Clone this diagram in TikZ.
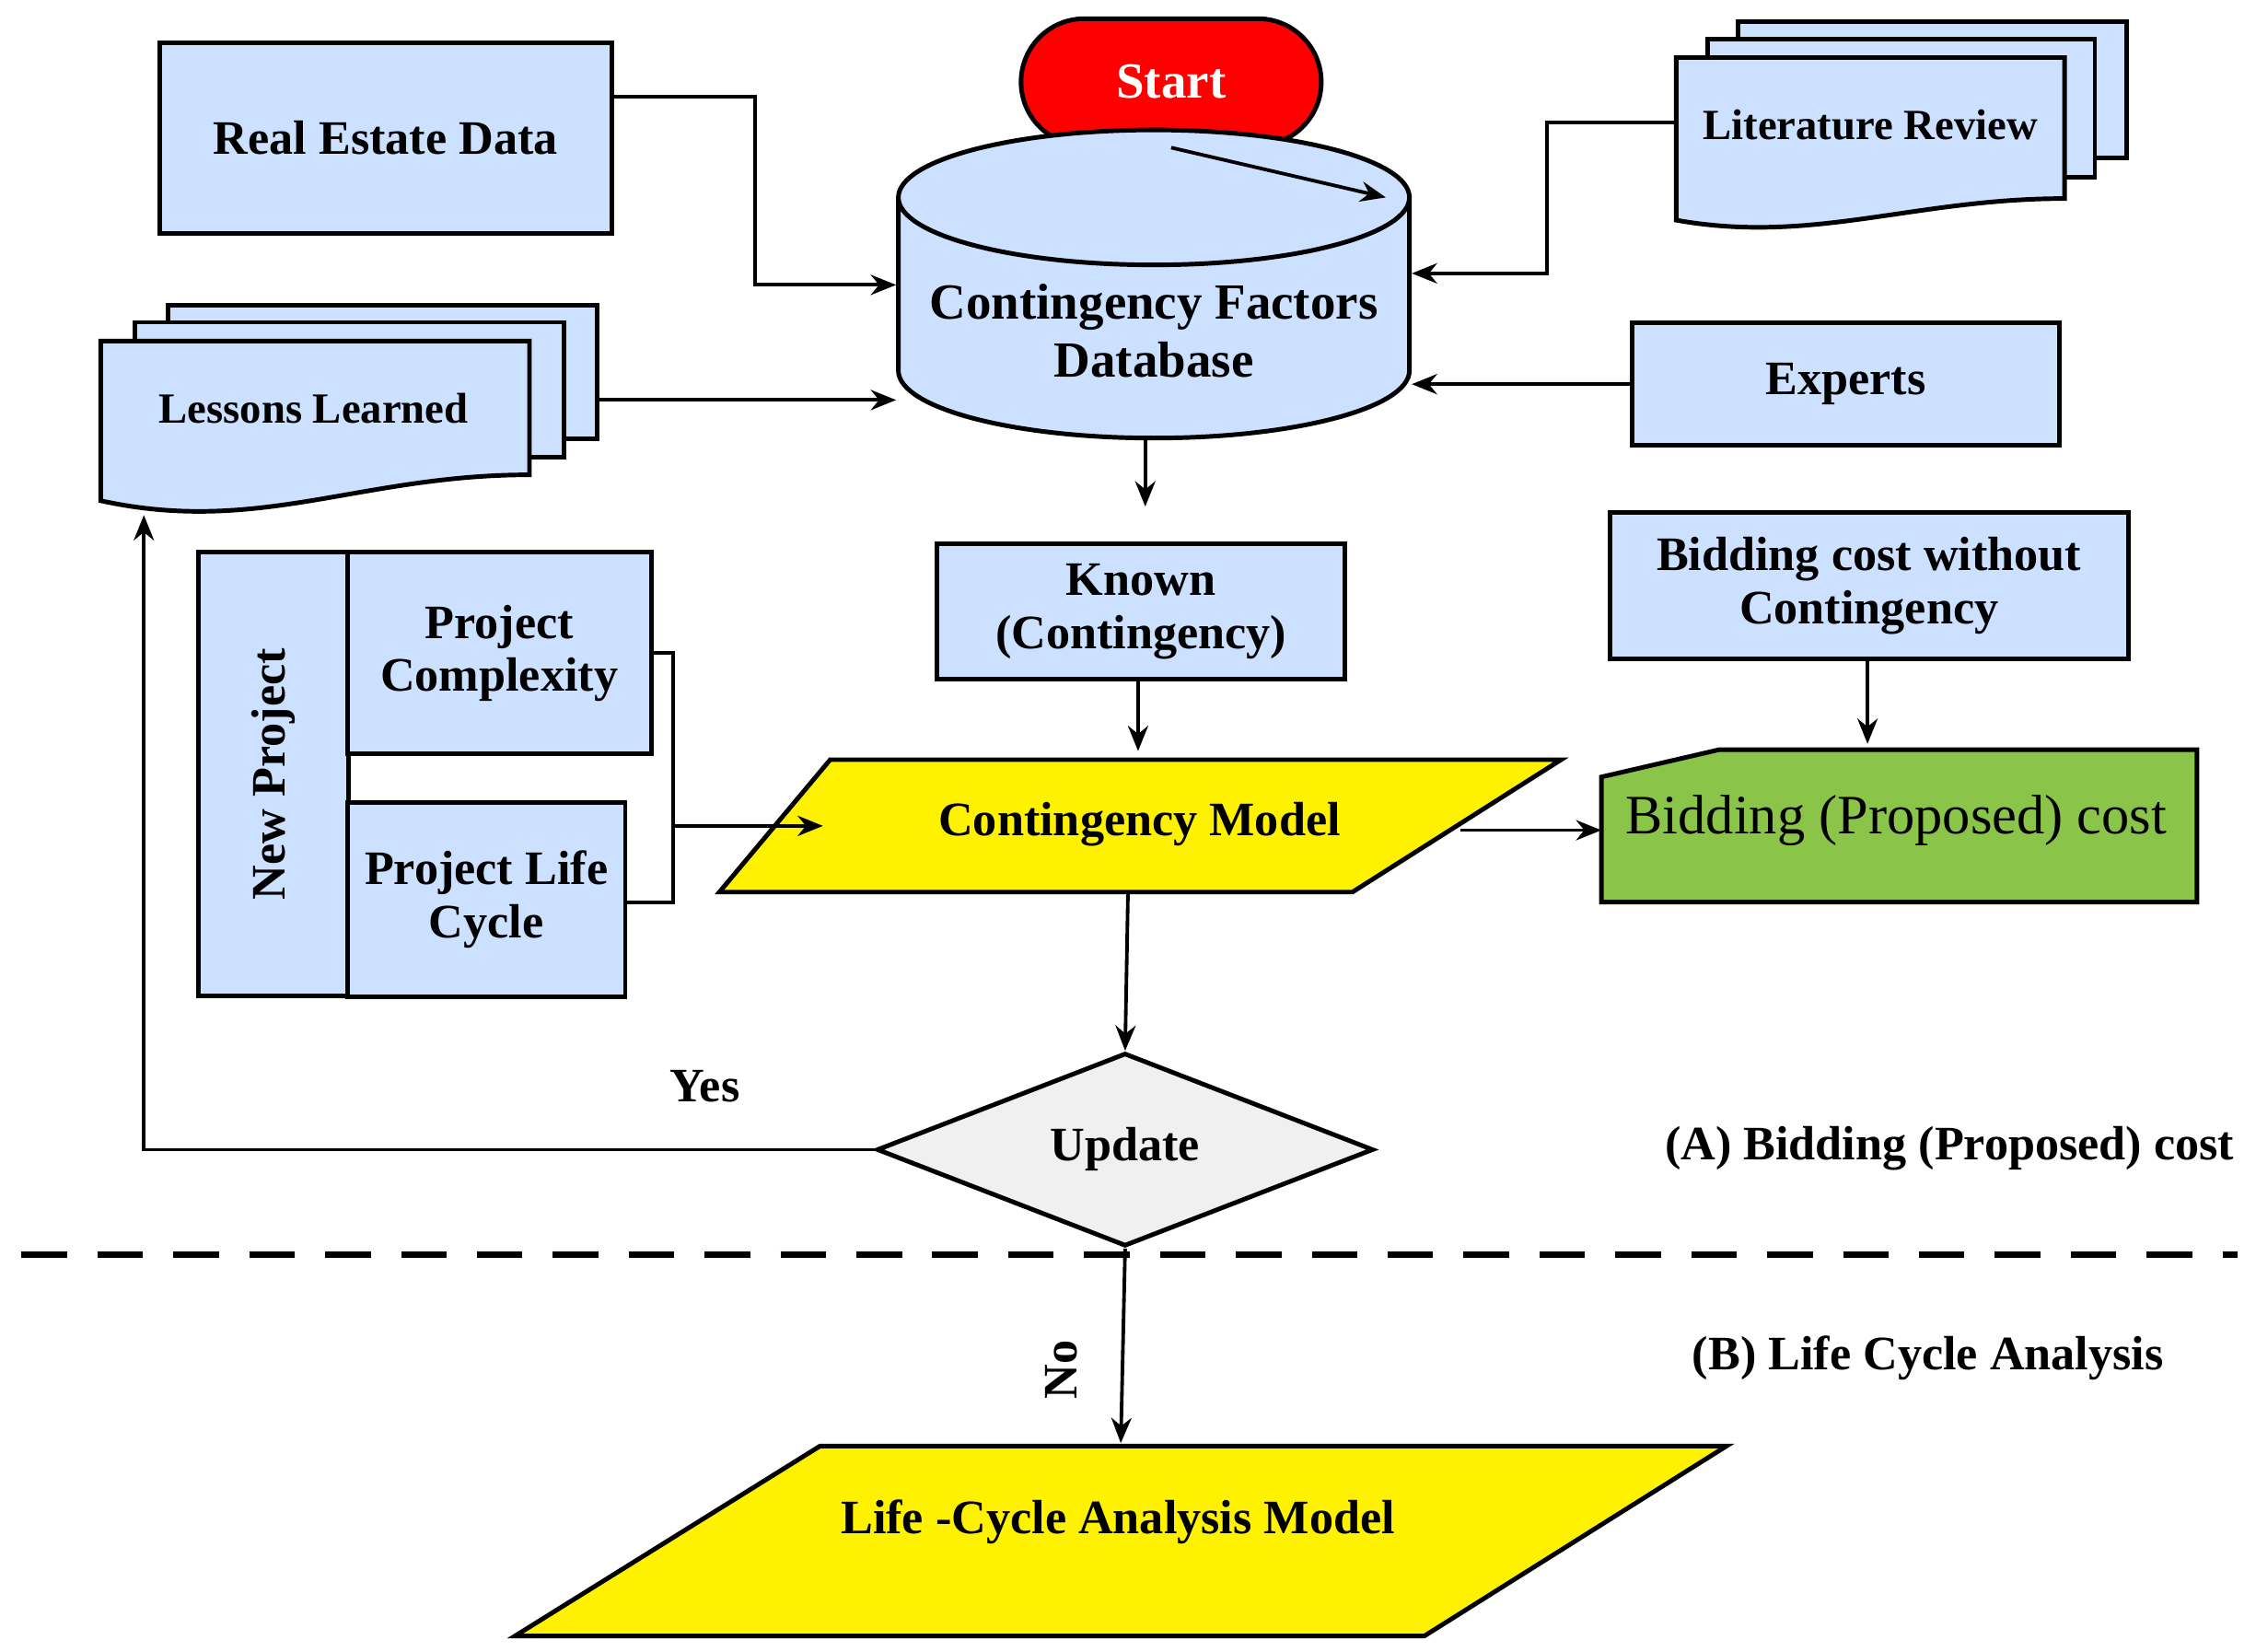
\documentclass[tikz,border=0pt]{standalone}
\usepackage{fontspec}
\setmainfont{Liberation Serif}
\usetikzlibrary{shapes.geometric}
\usetikzlibrary{shapes.misc}
\usetikzlibrary{arrows.meta}
\definecolor{boxblue}{RGB}{204,224,255}
\definecolor{boxgreen}{RGB}{138,196,72}
\begin{document}
\begin{tikzpicture}[x=0.01cm,y=-0.01cm]
	\tikzset{
		mynode/.style={rectangle, draw=black, line width=0.9pt, fill=boxblue, align=center, inner sep=0pt, font=\fontsize{9.5}{10.5}\selectfont\bfseries},
		startnode/.style={rounded rectangle, draw=black, line width=0.9pt, fill=red, text=white, minimum width=2.32cm, minimum height=0.88cm, font=\fontsize{10}{11}\selectfont\bfseries},
		dbnode/.style={cylinder, shape border rotate=90, draw=black, line width=0.9pt, fill=boxblue, minimum width=3.55cm, minimum height=1.85cm, aspect=0.28, align=center, font=\fontsize{10}{11.5}\selectfont\bfseries},
		sheet/.style={draw=black, line width=0.9pt, fill=boxblue},
		label/.style={font=\fontsize{9.5}{10.5}\selectfont\bfseries},
		arr/.style={-{Stealth[length=5pt,width=4pt]}, line width=0.7pt},
		line/.style={line width=0.7pt},
	}
	\useasboundingbox (0,0) rectangle (1568,1148);

	\node[startnode] (start) at (814,57) {Start};
	\node[dbnode] (db) at (802,230) {Contingency Factors\\Database};

	\node[mynode, minimum width=3.14cm, minimum height=1.32cm] (real) at (268,96) {Real Estate Data};
	\node[mynode, minimum width=2.97cm, minimum height=0.85cm] (experts) at (1283,267) {Experts};
	\node[mynode, minimum width=2.83cm, minimum height=0.94cm] (known) at (793,425) {Known\\(Contingency)};
	\node[mynode, minimum width=3.60cm, minimum height=1.02cm] (bidwo) at (1299,407) {Bidding cost without\\Contingency};

	% literature review sheets
	\draw[sheet] (1208,15) rectangle (1478,110);
	\draw[sheet] (1187,27) rectangle (1456,123);
	\draw[sheet] (1165,40) -- (1435,40) -- (1435,138) .. controls (1330,138) and (1260,170) .. (1165,153) -- cycle;
	\node[label, font=\fontsize{8.5}{10}\selectfont\bfseries] (lit) at (1300,87) {Literature Review};
	\coordinate (litw) at (1165,85);

	% lessons learned sheets
	\draw[sheet] (117,212) rectangle (415,305);
	\draw[sheet] (94,224) rectangle (392,318);
	\draw[sheet] (70,237) -- (368,237) -- (368,330) .. controls (250,330) and (180,372) .. (70,348) -- cycle;
	\node[label, font=\fontsize{8.5}{10}\selectfont\bfseries] (lessons) at (218,284) {Lessons Learned};
	\coordinate (lesse) at (415,278);
	\coordinate (lesss) at (100,358);

	% new project
	\node[mynode, minimum width=1.04cm, minimum height=3.08cm] (newp) at (190,538) {};
	\node[label, rotate=90] at (newp) {New Project};
	\node[mynode, minimum width=2.11cm, minimum height=1.40cm] (compl) at (347,454) {Project\\Complexity};
	\node[mynode, minimum width=1.93cm, minimum height=1.35cm] (life) at (338,625) {Project Life\\Cycle};

	% contingency model
	\draw[line width=0.9pt, fill=yellow] (577,528) -- (1085,528) -- (940,620) -- (500,620) -- cycle;
	\node[label] (model) at (792,573) {Contingency Model};
	\coordinate (modelw) at (572,574);
	\coordinate (modele) at (1015,577);
	\coordinate (modeln) at (791,522);
	\coordinate (models) at (784,620);

	% bidding proposed cost
	\draw[line width=0.9pt, fill=boxgreen] (1195,521) -- (1527,521) -- (1527,627) -- (1113,627) -- (1113,540) -- cycle;
	\node[font=\fontsize{11}{12}\selectfont] (bid) at (1318,570) {Bidding (Proposed) cost};
	\coordinate (bidw) at (1113,577);
	\coordinate (bidn) at (1298,517);

	% update
	\node[diamond, draw=black, line width=0.9pt, fill=gray!12, minimum width=3.45cm, minimum height=1.0cm, inner sep=0pt, label/.style={}, font=\fontsize{9.5}{10.5}\selectfont\bfseries] (upd) at (782,799) {Update};
	\node[label] (yes) at (490,755) {Yes};
	\node[label, rotate=90] (no) at (738,952) {No};

	\node[label, font=\fontsize{9.5}{10.5}\selectfont\bfseries] (parta) at (1355,798) {(A) Bidding (Proposed) cost};
	\node[label] (partb) at (1340,944) {(B) Life Cycle Analysis};
	\coordinate (dl) at (15,872);
	\coordinate (dr) at (1555,872);
	\draw[line width=1.3pt, dash pattern=on 9pt off 6pt] (dl) -- (dr);

	% life cycle model
	\draw[line width=0.9pt, fill=yellow] (570,1005) -- (1200,1005) -- (990,1137) -- (358,1137) -- cycle;
	\node[label] (lcm) at (777,1058) {Life -Cycle Analysis Model};
	\coordinate (lcmn) at (779,1003);

	% connectors
	\draw[arr] (start.south) -- ([xshift=-0.18cm]db.after top);
	\draw[arr] (real.east |- 0,67) -- (525,67) |- (db.west |- 0,198);
	\draw[arr] (lesse) -- (db.west |- lesse);
	\draw[arr] (litw) -- (1075,85) |- (db.east |- 0,190);
	\draw[arr] (experts.west) -- (db.east |- experts.west);
	\draw[arr] ([xshift=-0.06cm]db.south) -- ++(0,46);
	\draw[arr] (known.south -| modeln) -- (modeln);
	\draw[line] (compl.east) -- (468,454) -- (468,627) -- (life.east |- 0,627);
	\draw[arr] (468,574) -- (modelw);
	\draw[arr] (modele) -- (bidw);
	\draw[arr] (bidwo.south -| bidn) -- (bidn);
	\draw[arr] (models) -- (upd.north);
	\draw[arr] (upd.west) -- (100,799) -- (lesss);
	\draw[arr] (upd.south) -- (lcmn);
\end{tikzpicture}
\end{document}
